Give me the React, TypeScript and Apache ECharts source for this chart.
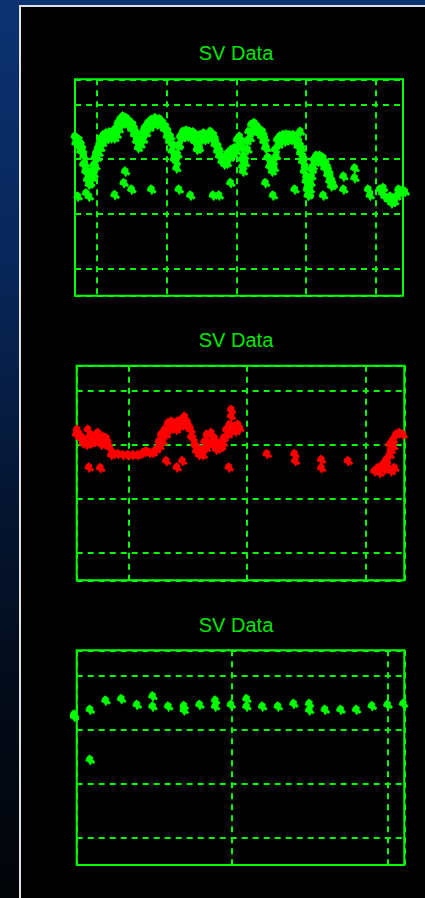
import React, { useEffect, useRef } from 'react';
import * as echarts from 'echarts';

const TITLE = 'SV Data';

// ---- Chart 1 (green, top) ----
const topBandUpper: number[][] = [
  [-3.1, 34.1], [-2.9, 33.8], [-2.5, 33.5], [-2.2, 32.6], [-2.05, 31.7], [-1.85, 30.5], [-1.7, 29.2], [-1.5, 28.3],
  [-1.25, 27.4], [-1.0, 26.5], [-0.77, 26.8], [-0.53, 28.0], [-0.4, 28.9], [-0.25, 30.2], [-0.05, 31.1], [0.2, 32.0],
  [0.43, 32.9], [0.67, 33.8], [1.0, 34.4], [1.4, 34.7], [1.87, 34.9], [2.34, 35.0], [2.7, 35.5], [3.06, 36.6],
  [3.4, 37.3], [3.78, 37.8], [4.26, 37.5], [4.74, 36.9], [5.22, 36.3], [5.6, 35.0], [5.85, 33.2], [6.17, 33.5],
  [6.55, 34.7], [6.9, 35.7], [7.37, 36.6], [7.85, 37.2], [8.4, 37.5], [9.04, 37.3], [9.5, 36.7], [9.9, 36.0],
  [10.24, 35.0], [10.6, 34.1], [10.96, 32.6], [11.25, 30.8], [11.5, 30.8], [11.7, 32.3], [12.0, 34.1], [12.39, 35.0],
  [12.87, 35.2], [13.35, 35.0], [13.83, 34.9], [14.3, 34.4], [14.55, 32.6], [14.9, 34.4], [15.35, 34.7], [15.74, 34.4],
  [16.3, 35.0], [16.8, 34.4], [17.1, 33.2], [17.42, 32.3], [17.75, 31.1], [18.13, 30.2], [18.5, 30.2], [18.85, 31.1],
  [19.33, 31.7], [19.8, 32.0], [20.15, 33.5], [20.5, 34.1], [20.77, 32.0], [20.9, 28.6], [21.15, 30.5], [21.5, 33.2],
  [21.8, 35.0], [22.2, 36.3], [22.6, 36.6], [23.0, 36.0], [23.4, 35.4], [23.8, 35.0], [24.1, 33.8], [24.35, 32.0],
  [24.65, 30.2], [25.0, 28.6], [25.3, 29.5], [25.6, 31.7], [25.9, 33.5], [26.27, 34.1], [26.75, 34.4], [27.2, 34.5],
  [27.7, 34.4], [28.2, 34.4], [28.66, 34.1], [29.0, 33.2], [29.4, 32.0], [29.6, 30.5], [29.9, 28.6], [30.1, 26.8],
  [30.3, 25.0], [30.5, 23.7], [30.7, 25.6], [30.9, 28.0], [31.15, 29.9], [31.5, 30.6], [32.0, 30.6], [32.5, 30.2],
  [32.9, 29.2], [33.25, 28.0], [33.5, 26.8], [33.8, 25.6],
];
const topBandLower: number[][] = [
  [-3.0, 32.9], [-2.6, 32.3], [-2.3, 31.4], [-1.9, 29.0], [-1.6, 27.7], [-1.35, 26.2], [-1.1, 25.3], [-0.9, 25.6],
  [-0.65, 26.5], [-0.4, 27.2], [-0.15, 28.6], [0.1, 30.2], [0.3, 31.1], [0.55, 32.0], [0.8, 32.9], [1.2, 33.5],
  [1.6, 33.8], [2.1, 33.8], [2.55, 33.8], [2.9, 34.4], [3.2, 35.4], [3.6, 36.3], [4.0, 36.6], [4.5, 36.3],
  [5.0, 35.4], [5.4, 34.4], [5.7, 33.2], [5.95, 32.0], [6.3, 32.6], [6.7, 33.5], [7.1, 34.7], [7.6, 35.7],
  [8.1, 36.3], [8.7, 36.3], [9.3, 36.0], [9.7, 35.4], [10.1, 34.1], [10.4, 33.2], [10.8, 31.4], [11.1, 29.9],
  [11.4, 29.5], [11.6, 30.8], [11.85, 32.6], [12.2, 33.8], [12.6, 34.1], [13.1, 34.1], [13.6, 33.8], [14.05, 33.2],
  [14.4, 31.7], [14.7, 32.0], [15.1, 33.5], [15.55, 33.5], [16.0, 33.8], [16.5, 33.8], [16.95, 32.6], [17.3, 31.4],
  [17.6, 30.5], [17.95, 29.5], [18.3, 29.0], [18.7, 29.2], [19.1, 30.2], [19.55, 30.8], [20.0, 31.4], [20.35, 32.3],
  [20.65, 32.9], [20.8, 29.9], [21.0, 27.7], [21.3, 29.2], [21.65, 31.7], [22.0, 33.8], [22.4, 35.0], [22.8, 35.4],
  [23.2, 34.7], [23.6, 34.1], [23.95, 33.2], [24.2, 32.0], [24.5, 30.2], [24.8, 28.6], [25.15, 27.7], [25.45, 28.3],
  [25.75, 30.5], [26.1, 32.6], [26.5, 33.2], [27.0, 33.2], [27.45, 33.5], [27.95, 33.5], [28.4, 33.2], [28.85, 32.3],
  [29.2, 31.1], [29.5, 29.5], [29.75, 27.7], [30.0, 25.9], [30.2, 24.4], [30.4, 23.4], [30.6, 24.4], [30.8, 26.8],
  [31.0, 28.6], [31.35, 29.5], [31.75, 29.5], [32.25, 29.2], [32.7, 28.3], [33.1, 27.1], [33.4, 25.9], [33.65, 25.0],
  [33.9, 25.3],
];
const topEndCluster: number[][] = [
  [40.6, 24.4], [41.0, 23.7], [41.3, 23.1], [41.8, 22.5], [42.3, 21.9], [42.7, 22.2], [43.0, 23.1], [43.4, 23.7],
  [43.9, 24.2], [44.2, 24.0], [41.1, 24.7], [42.1, 23.1], [42.5, 22.8], [43.3, 24.4],
];
const topOutliers: number[][] = [
  [-2.7, 23.1], [-1.5, 23.7], [-1.1, 23.1], [2.6, 23.4], [4.1, 27.7], [3.9, 25.6], [5.0, 24.4], [7.85, 24.4],
  [11.45, 28.3], [11.8, 24.4], [13.45, 23.3], [16.7, 23.3], [17.55, 23.3], [19.2, 25.6], [24.2, 25.6], [25.3, 23.3],
  [28.4, 24.4], [29.2, 35.0], [30.3, 23.3], [32.5, 23.3], [35.4, 26.8], [35.4, 24.4], [37.0, 28.3], [37.0, 26.5],
  [38.95, 24.4], [39.2, 23.3],
];

// ---- Chart 2 (red, middle) ----
const midBandUpper: number[][] = [
  [-4.3, 32.8], [-4.2, 32.2], [-3.94, 31.5], [-3.66, 30.9], [-3.38, 32.8], [-3.23, 31.5], [-2.95, 31.2], [-2.67, 31.9],
  [-2.53, 32.2], [-2.39, 30.9], [-2.1, 31.5], [-1.83, 31.2], [-1.69, 30.3], [-1.55, 29.4], [-1.27, 28.5], [-0.84, 28.3],
  [-0.42, 28.1], [0, 28.1], [0.42, 28.1], [0.84, 28.1], [1.27, 28.5], [1.55, 28.8], [1.83, 28.5], [2.1, 28.5],
  [2.39, 29.1], [2.62, 30.6], [2.81, 31.9], [3.1, 32.8], [3.38, 34.0], [3.66, 34.3], [3.94, 34.0], [4.22, 34.3],
  [4.5, 34.6], [4.78, 35.2], [5.06, 34.0], [5.29, 32.8], [5.49, 31.2], [5.63, 30.0], [5.77, 28.8], [5.99, 28.1],
  [6.27, 29.1], [6.47, 30.6], [6.67, 31.9], [7.03, 32.2], [7.31, 31.2], [7.6, 30.0], [7.88, 29.7], [8.07, 31.2],
  [8.3, 32.8], [8.58, 33.7], [8.86, 32.8], [9.09, 32.5], [9.28, 33.7], [9.42, 33.1], [8.72, 36.5], [8.72, 35.3],
];
const midBandLower: number[][] = [
  [-4.36, 31.9], [-4.08, 31.3], [-3.8, 30.3], [-3.5, 30.0], [-3.1, 30.3], [-2.8, 30.6], [-2.53, 30.6], [-2.25, 30.0],
  [-1.97, 30.3], [-1.41, 28.1], [2.67, 29.7], [2.95, 30.6], [3.23, 31.9], [3.52, 32.8], [3.8, 33.1], [4.08, 32.8],
  [4.36, 33.4], [4.64, 33.7], [4.92, 33.4], [5.35, 31.5], [5.77, 29.7], [6.05, 28.8], [6.33, 28.1], [6.61, 29.4],
  [6.89, 30.3], [7.17, 30.0], [7.45, 29.1], [7.74, 29.4], [8.02, 30.3], [8.44, 31.9], [8.72, 32.5], [9.0, 33.4],
];
const midOutliers: number[][] = [
  [-3.29, 25.8], [-2.33, 25.7], [3.23, 27.0], [4.13, 25.8], [4.59, 27.0], [8.52, 25.8], [11.73, 28.3], [14.06, 28.3],
  [14.12, 27.0], [16.32, 27.2], [16.32, 25.7], [18.57, 27.0],
];
const midEndCluster: number[][] = [
  [20.8, 25.1], [21.1, 25.7], [21.24, 24.8], [21.5, 26.3], [21.8, 27.2], [22.1, 28.1], [22.2, 25.1], [22.5, 25.7],
  [22.08, 30.0], [22.36, 30.9], [22.64, 31.9], [22.9, 32.2], [23.2, 31.9], [22.4, 29.7], [21.66, 25.4], [21.9, 26.3],
  [22.2, 29.0],
];

// ---- Chart 3 (green, bottom) ----
const lowPoints: number[][] = [
  [-10, 32.8], [-10, 32.4], [-9, 33.7], [-9, 24.4], [-8, 35.4], [-7, 35.7], [-6, 34.6], [-5, 36.2], [-5, 34.3],
  [-4, 34.3], [-3, 34.4], [-3, 33.6], [-2, 34.6], [-1, 35.4], [-1, 34.3], [0, 34.6], [1, 35.7], [1, 34.3],
  [2, 34.3], [3, 34.3], [4, 34.8], [5, 34.8], [5, 33.6], [6, 33.7], [7, 33.7], [8, 33.7], [9, 34.4], [10, 34.6],
  [11, 34.8],
];

// axis extents [xMin, xMax, yMin, yMax]
const extent1 = [-3.16, 43.88, 4.98, 44.65];
const extent2 = [-4.36, 23.29, 4.94, 44.69];
const extent3 = [-9.87, 11.04, 4.93, 44.76];

const GREEN = '#00ff00';
const RED = '#ff0000';
const SYMBOL = 'path://M4 0L8 2.5L7.5 4.5L10 7L8.5 8.5L6.5 7.5L5 10L3 7L0 6L1 2.5Z';

export default function App() {
  const ref = useRef<HTMLDivElement>(null);
  useEffect(() => {
    if (!ref.current) return;
    const chart = echarts.init(ref.current, undefined, { renderer: 'svg' });
    const grids = [
      { left: 75, top: 79.3, width: 328, height: 216.4 },
      { left: 76.7, top: 365.7, width: 327.6, height: 214.6 },
      { left: 76.7, top: 650.3, width: 327.6, height: 214.7 },
    ];
    const extents = [extent1, extent2, extent3];
    const split = { show: true, lineStyle: { color: GREEN, width: 2, type: [6, 5] } };
    const mkAxis = (i: number, isX: boolean) => {
      const e = extents[i];
      return {
        type: 'value',
        gridIndex: i,
        min: isX ? e[0] : e[2],
        max: isX ? e[1] : e[3],
        minInterval: 10,
        maxInterval: 10,
        axisLine: { show: false },
        axisTick: { show: false },
        axisLabel: { show: false },
        splitLine: split,
      };
    };
    const mkSeries = (i: number, data: number[][], color: string) => ({
      type: 'scatter',
      xAxisIndex: i,
      yAxisIndex: i,
      data,
      symbol: SYMBOL,
      symbolSize: [9, 10],
      clip: false,
      silent: true,
      z: 3,
      itemStyle: { color, opacity: 1, borderColor: color, borderWidth: 0.8 },
    });
    const titleYs = [53, 340, 625];
    chart.setOption({
      animation: false,
      backgroundColor: 'transparent',
      grid: grids.map((g) => ({ ...g, show: true, borderColor: GREEN, borderWidth: 2, backgroundColor: 'transparent', containLabel: false })),
      xAxis: [0, 1, 2].map((i) => mkAxis(i, true)),
      yAxis: [0, 1, 2].map((i) => mkAxis(i, false)),
      series: [
        mkSeries(0, topBandUpper, GREEN),
        mkSeries(0, topBandLower, GREEN),
        mkSeries(0, topEndCluster, GREEN),
        mkSeries(0, topOutliers, GREEN),
        mkSeries(1, midBandUpper, RED),
        mkSeries(1, midBandLower, RED),
        mkSeries(1, midOutliers, RED),
        mkSeries(1, midEndCluster, RED),
        mkSeries(2, lowPoints, GREEN),
      ],
      graphic: titleYs.map((y) => ({
        type: 'text',
        x: 236,
        y,
        silent: true,
        style: {
          text: TITLE,
          fill: '#00e800',
          font: '20px "Liberation Sans", Arial, sans-serif',
          align: 'center',
          verticalAlign: 'middle',
        },
      })),
    });
    return () => chart.dispose();
  }, []);

  return (
    <div
      style={{
        position: 'fixed',
        left: 0,
        top: 0,
        width: 425,
        height: 898,
        overflow: 'hidden',
        background: 'linear-gradient(to bottom, #0c3271 0%, #082659 30%, #051633 55%, #030a18 78%, #020408 100%)',
      }}
    >
      <div
        style={{
          position: 'absolute',
          left: 19,
          top: 5,
          width: 406,
          height: 893,
          boxSizing: 'border-box',
          borderLeft: '2px solid #e2e2e2',
          borderTop: '2px solid #e2e2e2',
          background: '#000',
        }}
      />
      <div ref={ref} style={{ position: 'absolute', left: 0, top: 0, width: 425, height: 898 }} />
    </div>
  );
}
